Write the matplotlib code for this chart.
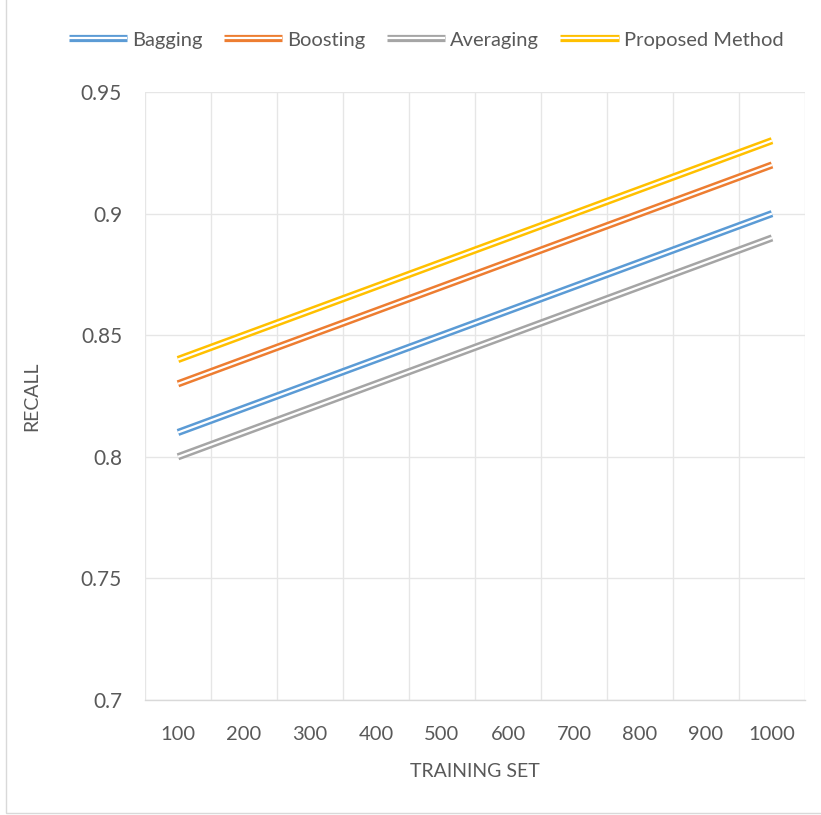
import matplotlib
matplotlib.use("Agg")
import matplotlib.pyplot as plt
import matplotlib.patheffects as pe
from matplotlib.patches import Rectangle

plt.rcParams['font.family'] = ['Lato', 'DejaVu Sans']

training_sizes = ["100", "200", "300", "400", "500", "600", "700", "800", "900", "1000"]
bagging = [0.81, 0.82, 0.83, 0.84, 0.85, 0.86, 0.87, 0.88, 0.89, 0.90]
boosting = [0.83, 0.84, 0.85, 0.86, 0.87, 0.88, 0.89, 0.90, 0.91, 0.92]
averaging = [0.80, 0.81, 0.82, 0.83, 0.84, 0.85, 0.86, 0.87, 0.88, 0.89]
proposed = [0.84, 0.85, 0.86, 0.87, 0.88, 0.89, 0.90, 0.91, 0.92, 0.93]

series = [
    ("Bagging", bagging, "#5b9bd5"),
    ("Boosting", boosting, "#ed7d31"),
    ("Averaging", averaging, "#a5a5a5"),
    ("Proposed Method", proposed, "#ffc000"),
]

W, H = 821, 815
fig = plt.figure(figsize=(W / 100, H / 100), dpi=100)
ax = fig.add_axes([145 / W, 1 - 700 / H, 660 / W, 608 / H])

text_color = "#595959"
grid_color = "#e6e6e6"

x = list(range(len(training_sizes)))
for name, vals, color in series:
    ax.plot(x, vals, color=color, linewidth=5.2, label=name, solid_capstyle="butt",
            path_effects=[pe.Normal(), pe.Stroke(linewidth=1.6, foreground="white")],
            zorder=3)

ax.set_xlim(-0.5, len(training_sizes) - 0.5)
ax.set_ylim(0.7, 0.95)
ax.set_yticks([0.7, 0.75, 0.8, 0.85, 0.9, 0.95])
ax.set_yticklabels(["0.7", "0.75", "0.8", "0.85", "0.9", "0.95"])
ax.set_xticks(x)
ax.set_xticklabels(training_sizes)
ax.set_xticks([i - 0.5 for i in range(len(training_sizes) + 1)], minor=True)

ax.grid(True, which="major", axis="y", color=grid_color, linewidth=1.0, zorder=0)
ax.grid(True, which="minor", axis="x", color=grid_color, linewidth=1.0, zorder=0)
ax.tick_params(which="both", length=0)
ax.tick_params(axis="x", which="major", pad=19, labelsize=14.5, labelcolor=text_color)
ax.tick_params(axis="y", which="major", pad=16.5, labelsize=15, labelcolor=text_color)

for side in ["top", "right", "left"]:
    ax.spines[side].set_visible(False)
ax.spines["bottom"].set_color("#d9d9d9")
ax.spines["bottom"].set_linewidth(1.0)

ax.set_xlabel("TRAINING SET", fontsize=14, color=text_color, labelpad=14)
ax.set_ylabel("RECALL", fontsize=14, color=text_color, labelpad=29)

leg = fig.legend(loc="center", bbox_to_anchor=(426 / W, 1 - 40 / H), ncol=4,
                 frameon=False, fontsize=14.5, handlelength=2.9, handletextpad=0.25,
                 columnspacing=1.05, labelcolor=text_color)

fig.patches.append(Rectangle((6 / W, 1 - 813 / H), (W + 5) / W, 820 / H,
                             transform=fig.transFigure, fill=False,
                             edgecolor="#d9d9d9", linewidth=1.0))

fig.savefig("out.png", dpi=100, facecolor="white")
